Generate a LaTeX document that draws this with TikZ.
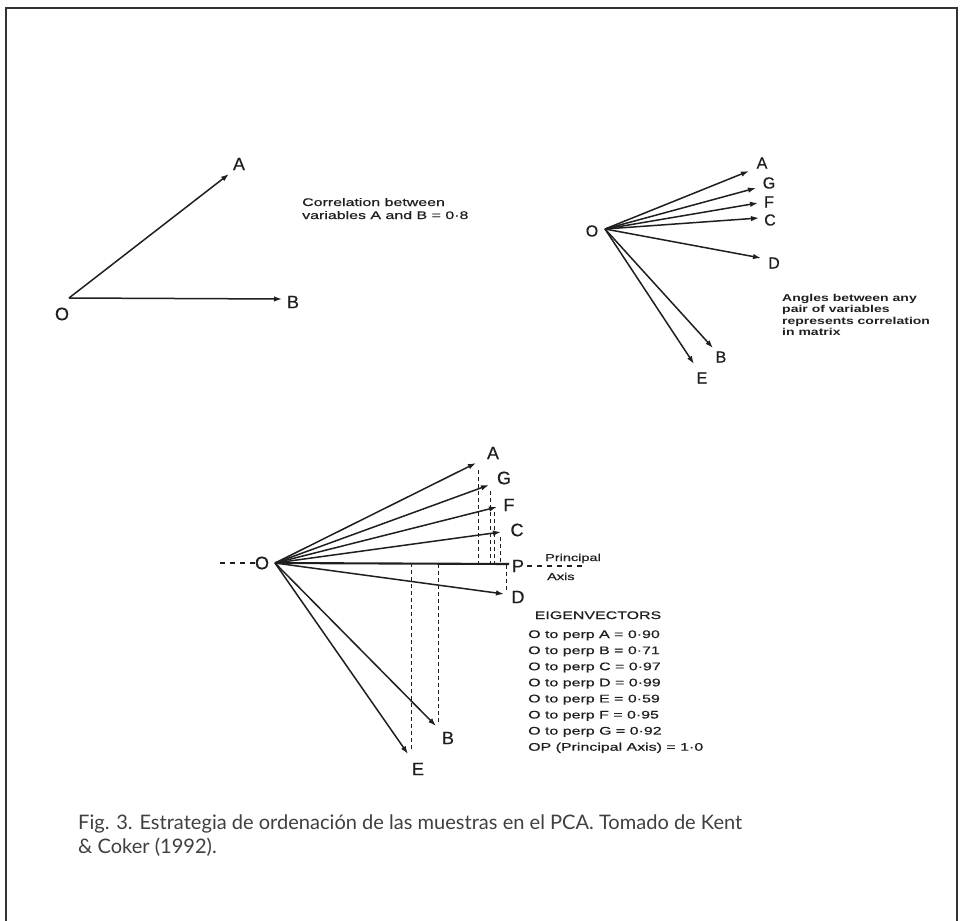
\documentclass[tikz,border=0pt]{standalone}
\usepackage{fontspec}
\usetikzlibrary{arrows.meta}
\setmainfont{Liberation Sans}
\newfontfamily\labfont[FakeBold=0.5]{Liberation Sans}
\newfontfamily\smallfont[FakeStretch=1.45,FakeBold=0.6]{Liberation Sans}
\newfontfamily\smallbold[FakeStretch=1.4]{Liberation Sans Bold}
\newfontfamily\capfont{Lato}
\definecolor{ink}{gray}{0.12}
\newlength\caplen
\begin{document}
\settowidth\caplen{\capfont\fontsize{20}{24}\selectfont Fig. 3. Estrategia de ordenación de las muestras en el PCA. Tomado de Kent}%
\pgfmathsetmacro\capsc{664/\caplen}%
\begin{tikzpicture}[x=1pt,y=-1pt,
  vec/.style={draw=ink, line width=1.5pt, -{Latex[length=8pt,width=5.5pt]}},
  axisline/.style={draw=ink, line width=2.1pt},
  proj/.style={draw=ink, line width=1pt, dash pattern=on 4pt off 3pt},
  lead/.style={draw=ink, line width=1.2pt, dash pattern=on 5pt off 5pt},
  labA/.style={inner sep=0, text=ink, font=\labfont\fontsize{18}{18}\selectfont},
  labB/.style={inner sep=0, text=ink, font=\labfont\fontsize{16}{16}\selectfont},
  note/.style={inner sep=0, anchor=base west, text=ink, font=\smallfont\fontsize{11}{11}\selectfont},
  notebold/.style={inner sep=0, anchor=base west, text=ink, font=\smallbold\fontsize{10}{10}\selectfont},
  tiny/.style={inner sep=0, anchor=base west, text=ink, font=\smallfont\fontsize{10}{10}\selectfont},
  captxt/.style={inner sep=0, anchor=base west, text=black!75}]
\useasboundingbox (0,0) rectangle (962,921);
\fill[white] (0,0) rectangle (962,921);
% frame
\draw[line width=2.5pt, draw=black!80] (6,925) -- (6,8) -- (957,8) -- (957,925);

% ---------- top-left ----------
\coordinate (o1) at (69,298);
\coordinate (t1A) at (229,174);
\coordinate (t1B) at (282,299);
\node[labA] (l1O) at (62,314) {O};
\node[labA] (l1A) at (239,164) {A};
\node[labA] (l1B) at (293,302) {B};
\draw[vec] (o1) -- (t1A);
\draw[vec] (o1) -- (t1B);
\node[note] (corr1) at (302,206) {Correlation between};
\node[note] (corr2) at (302,219) {variables A and B = 0·8};

% ---------- top-right ----------
\coordinate (o2) at (605,229);
\coordinate (t2A) at (749,171);
\coordinate (t2G) at (756,188);
\coordinate (t2F) at (758,203);
\coordinate (t2C) at (759,218);
\coordinate (t2D) at (761,258);
\coordinate (t2B) at (713,348);
\coordinate (t2E) at (694,364);
\node[labB] (l2O) at (592,231) {O};
\node[labB] (l2A) at (762,163) {A};
\node[labB] (l2G) at (769,183) {G};
\node[labB] (l2F) at (769,202) {F};
\node[labB] (l2C) at (770,220) {C};
\node[labB] (l2D) at (774,263) {D};
\node[labB] (l2B) at (721,357) {B};
\node[labB] (l2E) at (702,378) {E};
\foreach \v in {A,G,F,C,D,B,E} \draw[vec] (o2) -- (t2\v);
\node[notebold] (ang1) at (782,301) {Angles between any};
\node[notebold] (ang2) at (782,312.5) {pair of variables};
\node[notebold] (ang3) at (782,324) {represents correlation};
\node[notebold] (ang4) at (782,335.5) {in matrix};

% ---------- bottom ----------
\coordinate (o3) at (275,563);
\coordinate (t3A) at (476,463);
\coordinate (t3G) at (489,485);
\coordinate (t3F) at (497,507);
\coordinate (t3C) at (501,532);
\coordinate (t3P) at (509,564);
\coordinate (t3D) at (504,594);
\coordinate (t3B) at (436,726);
\coordinate (t3E) at (408,754);
\node[labA] (l3O) at (262,563) {O};
\node[labA] (l3A) at (493,453) {A};
\node[labA] (l3G) at (504,478) {G};
\node[labA] (l3F) at (509,505) {F};
\node[labA] (l3C) at (517,530) {C};
\node[labA] (l3P) at (518,566) {P};
\node[labA] (l3D) at (518,597) {D};
\node[labA] (l3B) at (448,738) {B};
\node[labA] (l3E) at (418,769) {E};
\coordinate (lead3) at (220,563);
\draw[lead] (lead3) -- (l3O.west);
\foreach \v in {A,G,F,C,D,B,E} \draw[vec] (o3) -- (t3\v);
\draw[axisline] (o3) -- (t3P);
% projections
\coordinate (pA) at (478,470);
\coordinate (pG) at (490,491);
\coordinate (pF) at (494,512);
\coordinate (pC) at (500,537);
\coordinate (pD) at (506,590);
\coordinate (pB) at (438,722);
\coordinate (pE) at (411,749);
\foreach \v in {A,G,F,C,D,B,E} \draw[proj] (p\v) -- (p\v |- o3);
% principal axis
\coordinate (axend) at (584,566);
\draw[lead] (l3P.east) ++(3,0) coordinate (axstart) -- (axend);
\node[tiny] (prin) at (545,561) {Principal};
\node[tiny] (axis) at (547,580) {Axis};
% eigenvectors
\node[note, anchor=base] (eig) at (598,619) {EIGENVECTORS};
\foreach \t [count=\i] in {{O to perp A = 0·90},{O to perp B = 0·71},{O to perp C = 0·97},{O to perp D = 0·99},{O to perp E = 0·59},{O to perp F = 0·95},{O to perp G = 0·92},{OP (Principal Axis) = 1·0}}
  \node[note] (ev\i) at (528,{638+16.1*(\i-1)}) {\t};

% ---------- caption ----------
\node[captxt] (cap1) at (78,829) {\scalebox{\capsc}[1]{\capfont\fontsize{20}{24}\selectfont Fig. 3. Estrategia de ordenación de las muestras en el PCA. Tomado de Kent}};
\node[captxt] (cap2) at (78,853) {\scalebox{\capsc}[1]{\capfont\fontsize{20}{24}\selectfont \& Coker (1992).}};
\end{tikzpicture}
\end{document}
